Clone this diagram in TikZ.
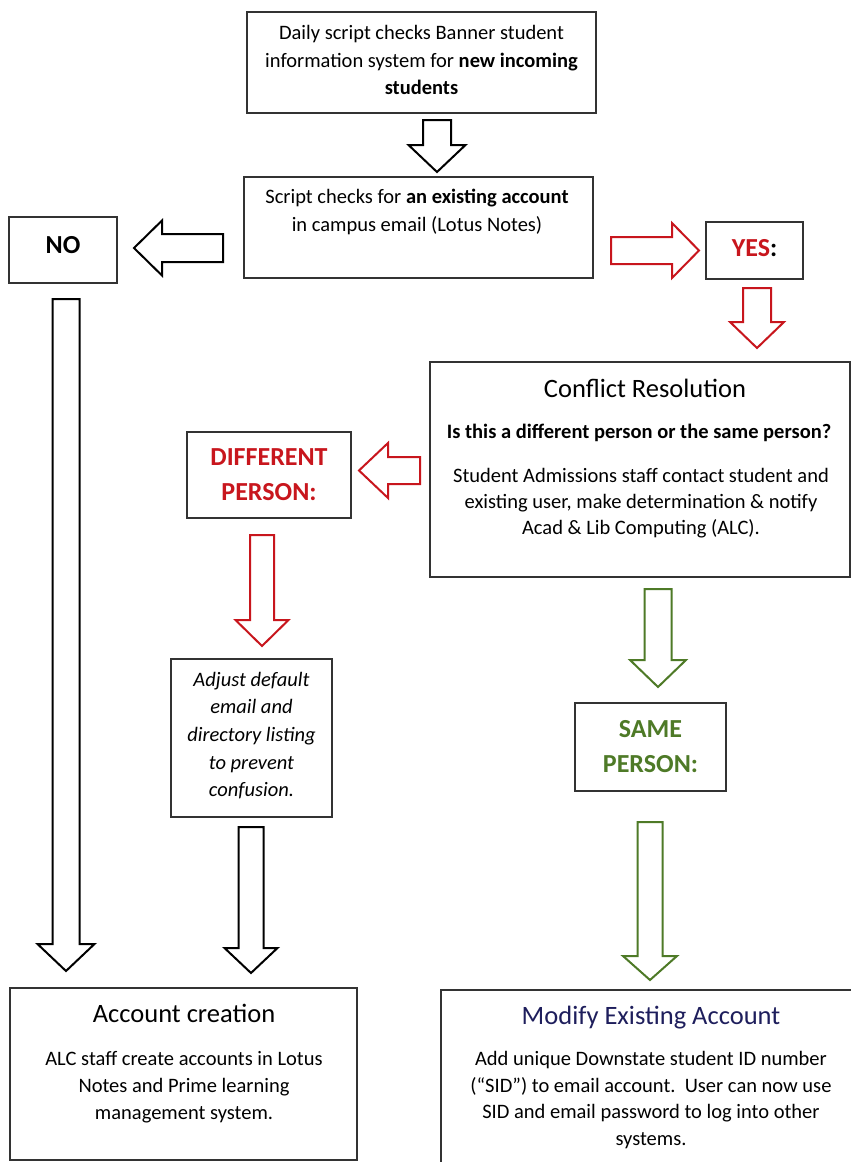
\documentclass[tikz,border=0pt]{standalone}
\usepackage{fontspec}
\setmainfont{Carlito}
\definecolor{myred}{HTML}{C8161D}
\definecolor{mygreen}{HTML}{4E7A27}
\definecolor{mynavy}{HTML}{1E1E5C}
\definecolor{boxline}{HTML}{333333}
\newcommand\dnarrow[7]{\draw[#1] ({#2-#6},#3) -- ({#2+#6},#3) -- ({#2+#6},#4) -- ({#2+#7},#4) -- (#2,#5) -- ({#2-#7},#4) -- ({#2-#6},#4) -- cycle;}
\newcommand\hzarrow[7]{\draw[#1] (#3,{#2-#6}) -- (#4,{#2-#6}) -- (#4,{#2-#7}) -- (#5,#2) -- (#4,{#2+#7}) -- (#4,{#2+#6}) -- (#3,{#2+#6}) -- cycle;}
\tikzset{
  box/.style={draw=boxline, line width=1.4pt, rectangle, inner sep=0pt, fill=white},
  body/.style={font=\fontsize{20.5}{27.5}\selectfont, align=center, inner sep=0pt},
  itbody/.style={font=\fontsize{20.5}{27.7}\selectfont\itshape, align=center, inner sep=0pt},
  heading/.style={font=\fontsize{26.5}{30}\selectfont, inner sep=0pt},
  lbl/.style={font=\fontsize{26}{35}\selectfont\bfseries, align=center, inner sep=0pt},
  blkarrow/.style={draw=black, line width=2pt, fill=white, line join=miter},
  redarrow/.style={draw=myred, line width=2pt, fill=white, line join=miter},
  grnarrow/.style={draw=mygreen, line width=2pt, fill=white, line join=miter},
}
\begin{document}
\begin{tikzpicture}[x=1pt,y=-1pt]
\useasboundingbox (0,0) rectangle (851,1162);
\clip (0,0) rectangle (851,1162);
\fill[white] (0,0) rectangle (851,1162);

% boxes
\node[box, minimum width=349pt, minimum height=101pt] (daily) at (421.5,62.5) {};
\node[body] (dailyt) at (421.5,60) {Daily script checks Banner student\\information system for \textbf{new incoming}\\\textbf{students}};

\node[box, minimum width=349pt, minimum height=101pt] (script) at (418.5,227.5) {};
\node[body] (scriptt) at (417,212) {Script checks for \textbf{an existing account}\\in campus email (Lotus Notes)};

\node[box, minimum width=108pt, minimum height=66pt] (no) at (63,250) {};
\node[lbl] (not) at (63,245) {NO};

\node[box, minimum width=97pt, minimum height=57pt] (yes) at (754.5,250.5) {};
\node[lbl] (yest) at (754.5,248) {\textcolor{myred}{YES}:};

\node[box, minimum width=420pt, minimum height=215pt] (conflict) at (640,469.5) {};
\node[heading] (conflictt) at (645,388) {Conflict Resolution};
\node[body, font=\fontsize{20.5}{27.5}\selectfont\bfseries] (question) at (639,433) {Is this a different person or the same person?};
\node[body, font=\fontsize{20.5}{26}\selectfont] (conflictb) at (641,503) {Student Admissions staff contact student and\\existing user, make determination \& notify\\Acad \& Lib Computing (ALC).};

\node[box, minimum width=164pt, minimum height=86pt] (diff) at (269,475) {};
\node[lbl, text=myred] (difft) at (269,474.5) {DIFFERENT\\PERSON:};

\node[box, minimum width=161pt, minimum height=158pt] (adjust) at (251.5,738) {};
\node[itbody] (adjustt) at (251.5,735.5) {Adjust default\\email and\\directory listing\\to prevent\\confusion.};

\node[box, minimum width=151pt, minimum height=88pt] (same) at (650.5,747) {};
\node[lbl, text=mygreen] (samet) at (650.5,746.5) {SAME\\PERSON:};

\node[box, minimum width=347pt, minimum height=172pt] (account) at (183.5,1074) {};
\node[heading] (accountt) at (184,1013) {Account creation};
\node[body, font=\fontsize{20.5}{27}\selectfont] (accountb) at (184,1087) {ALC staff create accounts in Lotus\\Notes and Prime learning\\management system.};

\node[box, minimum width=430pt, minimum height=200pt] (modify) at (656,1090) {};
\node[heading, text=mynavy] (modifyt) at (651,1018) {Modify Existing Account};
\node[body, font=\fontsize{20.5}{26.7}\selectfont] (modifyb) at (651,1100) {Add unique Downstate student ID number\\(``SID'') to email account.\ \ User can now use\\SID and email password to log into other\\systems.};

% block arrows
\dnarrow{blkarrow}{437}{120}{145}{172}{14}{28.5}
\hzarrow{blkarrow}{248}{223}{162}{134}{14}{27.5}
\hzarrow{redarrow}{250.5}{611}{672}{699}{13.5}{27.5}
\dnarrow{redarrow}{757}{288}{322}{348}{14}{27}
\hzarrow{redarrow}{470.5}{420}{388}{359}{13.5}{27.5}
\dnarrow{redarrow}{262}{535}{620}{646}{12}{26.5}
\dnarrow{blkarrow}{66}{299}{944}{971}{13.5}{28.5}
\dnarrow{blkarrow}{251}{827}{948}{973}{12.5}{26.5}
\dnarrow{grnarrow}{658}{589}{660}{687}{13.5}{28}
\dnarrow{grnarrow}{650}{822}{956}{980}{12.5}{27}
\end{tikzpicture}
\end{document}
